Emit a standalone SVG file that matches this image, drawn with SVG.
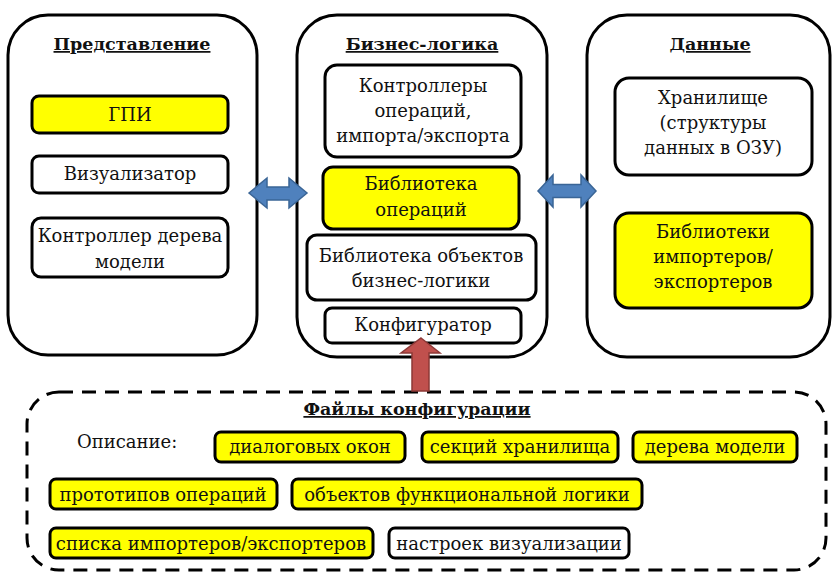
<svg xmlns="http://www.w3.org/2000/svg" width="832" height="572" viewBox="0 0 832 572" font-family="'DejaVu Serif', serif">
<style>
text{font-size:18px;fill:#111;text-anchor:middle}
.t{font-size:17.5px;font-weight:bold;text-decoration:underline}
.panel{fill:#fff;stroke:#000;stroke-width:3}
.box{fill:#fff;stroke:#000;stroke-width:3}
.y{fill:#ffff00}
.pill{stroke:#000;stroke-width:3}
.blue{fill:#4f81bd;stroke:#3a6596;stroke-width:1.5}
.red{fill:#c0504d;stroke:#8c3836;stroke-width:1.5}
.dash{fill:none;stroke:#000;stroke-width:3;stroke-dasharray:14 9}
</style>
<rect width="832" height="572" fill="#fff"/>
<g id="presentation">
<rect class="panel" x="8" y="15" width="249" height="340" rx="40"/>
<text class="t" x="132" y="50">Представление</text>
</g>
<g id="gpi"><rect class="box y" x="32" y="96" width="196" height="37" rx="7"/><text x="130" y="121">ГПИ</text></g>
<g id="visualizer"><rect class="box" x="32" y="156" width="196" height="37" rx="7"/><text x="130" y="180">Визуализатор</text></g>
<g id="tree-controller"><rect class="box" x="32" y="218" width="196" height="59" rx="9"/><text x="130" y="242">Контроллер дерева</text><text x="130" y="268">модели</text></g>

<g id="business">
<rect class="panel" x="297" y="15" width="250" height="342" rx="40"/>
<text class="t" x="422" y="50">Бизнес-логика</text>
</g>
<g id="controllers"><rect class="box" x="325" y="65" width="196" height="92" rx="12"/><text x="423" y="92">Контроллеры</text><text x="423" y="117">операций,</text><text x="423" y="142">импорта/экспорта</text></g>
<g id="ops-lib"><rect class="box y" x="323" y="167" width="196" height="62" rx="10"/><text x="421" y="190">Библиотека</text><text x="421" y="216">операций</text></g>
<g id="obj-lib"><rect class="box" x="307" y="235" width="229" height="65" rx="10"/><text x="421" y="262">Библиотека объектов</text><text x="421" y="287">бизнес-логики</text></g>
<g id="configurator"><rect class="box" x="325" y="308" width="196" height="35" rx="7"/><text x="423" y="331">Конфигуратор</text></g>

<g id="data">
<rect class="panel" x="587" y="15" width="243" height="342" rx="40"/>
<text class="t" x="710" y="50">Данные</text>
</g>
<g id="storage"><rect class="box" x="615" y="78" width="197" height="97" rx="14"/><text x="713" y="104">Хранилище</text><text x="713" y="129">(структуры</text><text x="713" y="154">данных в ОЗУ)</text></g>
<g id="importers"><rect class="box y" x="615" y="213" width="197" height="95" rx="14"/><text x="713" y="238">Библиотеки</text><text x="713" y="263">импортеров/</text><text x="713" y="288">экспортеров</text></g>

<g id="config-files">
<rect class="dash" x="27" y="392" width="799" height="178" rx="32"/>
<text class="t" x="417" y="415">Файлы конфигурации</text>
<text x="77" y="448" style="text-anchor:start">Описание:</text>
</g>
<g id="p1"><rect class="pill y" x="215" y="432" width="190" height="30" rx="6"/><text x="310" y="453">диалоговых окон</text></g>
<g id="p2"><rect class="pill y" x="422" y="432" width="196" height="30" rx="6"/><text x="520" y="453">секций хранилища</text></g>
<g id="p3"><rect class="pill y" x="633" y="432" width="164" height="30" rx="6"/><text x="715" y="453">дерева модели</text></g>
<g id="p4"><rect class="pill y" x="50" y="479" width="227" height="30" rx="6"/><text x="163" y="501">прототипов операций</text></g>
<g id="p5"><rect class="pill y" x="292" y="479" width="350" height="30" rx="6"/><text x="467" y="501">объектов функциональной логики</text></g>
<g id="p6"><rect class="pill y" x="50" y="528" width="323" height="30" rx="6"/><text x="211" y="550">списка импортеров/экспортеров</text></g>
<g id="p7"><rect class="pill" fill="#fff" x="389" y="528" width="240" height="30" rx="6"/><text x="509" y="550">настроек визуализации</text></g>

<g id="connectors">
<path class="blue" d="M249,193 L267,178 L267,187 L289,187 L289,178 L307,193 L289,208 L289,200 L267,200 L267,208 Z"/>
<path class="blue" d="M538,191 L553,175 L553,184.5 L581,184.5 L581,175 L596,191 L581,207 L581,197.5 L553,197.5 L553,207 Z"/>
<path class="red" d="M421,338 L440,353 L429,353 L429,391 L412,391 L412,353 L401,353 Z"/>
</g>
</svg>
